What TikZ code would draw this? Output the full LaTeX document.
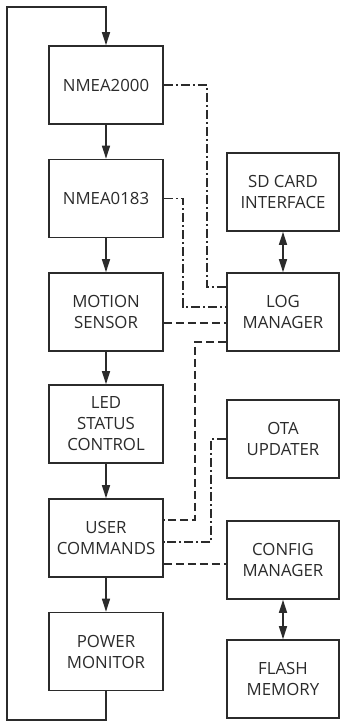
\documentclass[tikz,border=0pt]{standalone}
\usepackage{fontspec}
\setmainfont{Open Sans}
\usetikzlibrary{arrows.meta,calc}
\definecolor{ink}{HTML}{2B2B2B}
\begin{document}
\begin{tikzpicture}[x=1pt,y=-1pt,
  line width=1.6pt, color=ink,
  blk/.style={draw=ink, line width=1.6pt, minimum height=78pt, align=center,
    font=\fontsize{16.8}{21}\selectfont, text=ink, inner sep=0pt},
  lblk/.style={blk, minimum width=114pt},
  rblk/.style={blk, minimum width=112pt},
  flow/.style={-{Triangle[length=13pt,width=8pt]}},
  both/.style={{Triangle[length=13pt,width=8pt]}-{Triangle[length=13pt,width=8pt]}},
  dsh/.style={dash pattern=on 8pt off 4pt},
  dshdot/.style={dash pattern=on 9pt off 3pt on 2pt off 3pt}
]
\fill[white] (0,0) rectangle (340,721);
\useasboundingbox (0,0) rectangle (340,721);

\node[lblk] (n2k) at (106,85) {NMEA2000};
\node[lblk] (n0183) at (106,198.5) {NMEA0183};
\node[lblk] (motion) at (106,312) {MOTION\\SENSOR};
\node[lblk] (led) at (106,424) {LED\\STATUS\\CONTROL};
\node[lblk] (user) at (106,538) {USER\\COMMANDS};
\node[lblk] (power) at (106,651.5) {POWER\\MONITOR};

\node[rblk] (sd) at (283,192) {SD CARD\\INTERFACE};
\node[rblk] (log) at (283,312) {LOG\\MANAGER};
\node[rblk] (ota) at (283,439) {OTA\\UPDATER};
\node[rblk] (config) at (283,560) {CONFIG\\MANAGER};
\node[rblk] (flash) at (283,679) {FLASH\\MEMORY};

\coordinate (lb) at (106,720);
\coordinate (ll) at (7,720);
\coordinate (lt) at (7,7);
\coordinate (lr) at (106,7);

\draw[flow] (power.south) -- (lb) -- (ll) -- (lt) -- (lr) -- (n2k.north);
\draw[flow] (n2k.south) -- (n0183.north);
\draw[flow] (n0183.south) -- (motion.north);
\draw[flow] (motion.south) -- (led.north);
\draw[flow] (led.south) -- (user.north);
\draw[flow] (user.south) -- (power.north);

\draw[both] (sd.south) -- (log.north);
\draw[both] (config.south) -- (flash.north);

\draw[dshdot] (n2k.east) -- (207,85) |- ([yshift=25pt]log.west);
\draw[dshdot] (n0183.east) -- (183,198.5) |- ([yshift=5pt]log.west);
\draw[dsh] ([yshift=-11pt]motion.east) -- ([yshift=-11pt]log.west);
\draw[dsh] ([yshift=-30pt]log.west) -- (195,342) |- ([yshift=18pt]user.east);
\draw[dshdot] (ota.west) -- (211,439) |- ([yshift=-4pt]user.east);
\draw[dsh] ([yshift=-26pt]user.east) -- ([yshift=-4pt]config.west);
\end{tikzpicture}
\end{document}
